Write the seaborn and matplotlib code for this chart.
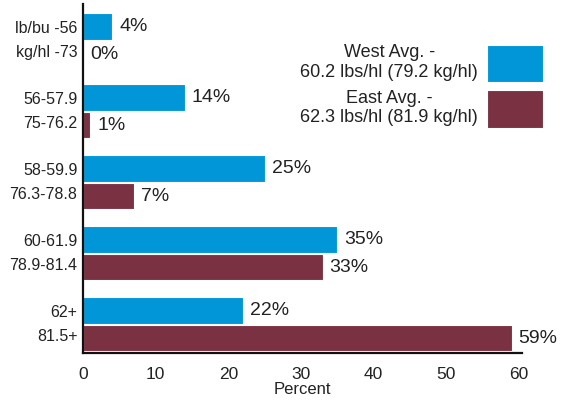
import matplotlib
matplotlib.use("Agg")
import matplotlib.pyplot as plt
import seaborn as sns
import pandas as pd

# Test-weight classes (lb/bu over kg/hl) and share of samples per region
categories = ["lb/bu -56\nkg/hl -73", "56-57.9\n75-76.2", "58-59.9\n76.3-78.8",
              "60-61.9\n78.9-81.4", "62+\n81.5+"]
west_pct = [4, 14, 25, 35, 22]
east_pct = [0, 1, 7, 33, 59]
series_labels = ["West Avg. -\n60.2 lbs/hl (79.2 kg/hl)",
                 "East Avg. -\n62.3 lbs/hl (81.9 kg/hl)"]
colors = ["#0096D8", "#7A3141"]
x_ticks = [0, 10, 20, 30, 40, 50, 60]

sns.set_theme(style="white")
plt.rcParams["font.family"] = ["Liberation Sans", "DejaVu Sans"]

df = pd.DataFrame({
    "cat": categories * 2,
    "pct": west_pct + east_pct,
    "series": [series_labels[0]] * len(categories) + [series_labels[1]] * len(categories),
})

fig = plt.figure(figsize=(5.61, 4.03), dpi=100)
ax = fig.add_axes([0.148, 0.125, 0.782, 0.865])

sns.barplot(data=df, y="cat", x="pct", hue="series", orient="h",
            palette=colors, width=0.78, gap=0.05, saturation=1,
            edgecolor="white", linewidth=0.8,
            order=categories, hue_order=series_labels, ax=ax)

for cont in ax.containers:
    ax.bar_label(cont, labels=[f"{v:.0f}%" for v in cont.datavalues],
                 padding=5, fontsize=14, color="#222222")

ax.set_xlim(0, 60.4)
ax.set_ylim(4.40, -0.51)
ax.set_xticks(x_ticks)
ax.set_xticklabels([str(t) for t in x_ticks], fontsize=12.5, color="#222222")
ax.set_yticks(range(len(categories)))
ax.set_yticklabels(categories, fontsize=11.5, color="#222222", linespacing=1.75,
                   ha="right", va="center", multialignment="right")
ax.set_xlabel("Percent", fontsize=12, color="#222222", labelpad=0)
ax.set_ylabel("")
ax.tick_params(axis="y", length=0, pad=4)
ax.tick_params(axis="x", length=0, pad=10)

sns.despine(ax=ax)
for side in ("left", "bottom"):
    ax.spines[side].set_color("#111111")
    ax.spines[side].set_linewidth(1.6)

leg = ax.legend(loc="upper right", bbox_to_anchor=(543 / 561, 1 - 44 / 403),
                bbox_transform=fig.transFigure, frameon=False, markerfirst=False,
                fontsize=13, handlelength=3.1, handleheight=2.85,
                handletextpad=0.5, labelspacing=0.4, borderpad=0,
                borderaxespad=0)
for t in leg.get_texts():
    t.set_multialignment("center")
    t.set_color("#222222")

fig.savefig("out.png", dpi=100)
